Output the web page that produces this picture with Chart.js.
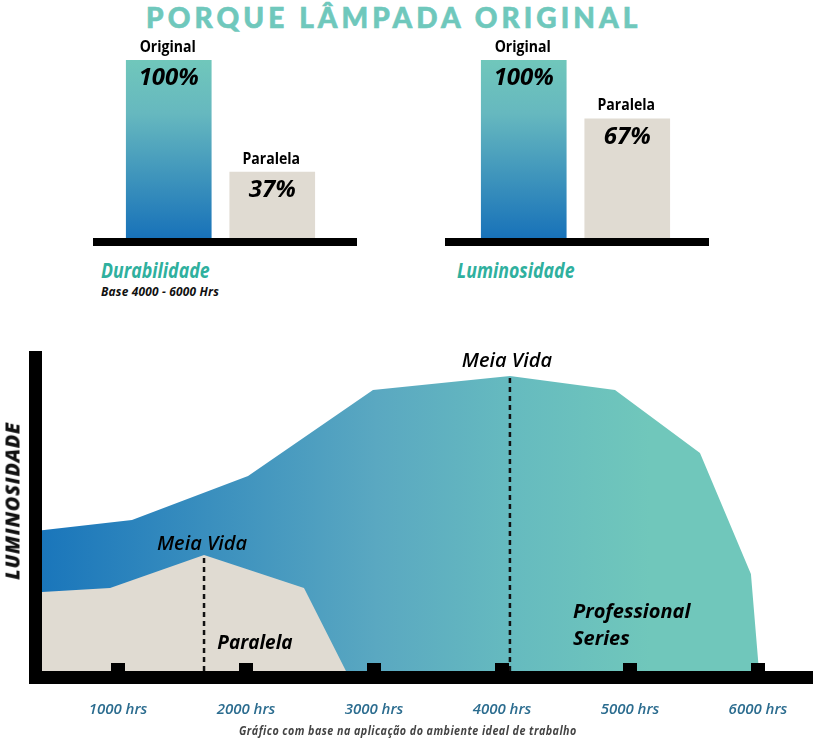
<!DOCTYPE html>
<html lang="pt">
<head>
<meta charset="utf-8">
<title>Porque lâmpada original</title>
<script src="https://cdn.jsdelivr.net/npm/chart.js@4/dist/chart.umd.min.js"></script>
<style>
html,body{margin:0;padding:0;background:#fff;width:815px;height:739px;overflow:hidden}
#wrap{position:relative;width:815px;height:739px}
canvas{position:absolute;display:block}
.t{position:absolute;white-space:nowrap;line-height:1;margin:0;transform-origin:left center}
#title{left:146px;top:0;font:900 28px "Lato";letter-spacing:4.1px;color:#6fc8bc;-webkit-text-stroke:.6px #6fc8bc}
.sub{font:italic bold 21px "Open Sans";color:#2fb09e;transform:scaleX(.845)}
#base{left:101px;top:283px;font:italic bold 12px "Open Sans";letter-spacing:.2px;color:#111;transform:scaleX(.99)}
#note{left:239px;top:722px;font:italic bold 12px "Open Sans";letter-spacing:.5px;color:#444;transform:scaleX(.895)}
#ylab{left:12px;top:501px;font:italic 800 20px "Open Sans";letter-spacing:.6px;color:#111;transform-origin:center;transform:translate(-50%,-50%) rotate(-90deg)}
</style>
</head>
<body>
<div id="wrap">
  <h1 class="t" id="title">PORQUE LÂMPADA ORIGINAL</h1>
  <canvas id="c1" width="264" height="226" style="left:93px;top:30px"></canvas>
  <canvas id="c2" width="264" height="226" style="left:445px;top:30px"></canvas>
  <div class="t sub" style="left:101px;top:256px">Durabilidade</div>
  <div class="t" id="base">Base 4000 - 6000 Hrs</div>
  <div class="t sub" style="left:457px;top:256px">Luminosidade</div>
  <canvas id="c3" width="815" height="399" style="left:0;top:340px"></canvas>
  <div class="t" id="ylab">LUMINOSIDADE</div>
  <div class="t" id="note">Gráfico com base na aplicação do ambiente ideal de trabalho</div>
</div>
<script>
// ---- data ----
const barCategories = ["Original", "Paralela"];
const durabilidade = [100, 37];
const luminosidade = [100, 67];

const hourTicks = [1000, 2000, 3000, 4000, 5000, 6000];
const originalHours = [406, 1109, 2016, 2992, 4062, 4883, 5547, 5945, 6008];
const originalLum   = [44, 47.2, 60.9, 87.8, 92.2, 87.8, 68.1, 30.3, 0];
const paralelaHours = [406, 938, 1672, 2453, 2781];
const paralelaLum   = [24.7, 25.9, 36.25, 25.9, 0];
const meiaVidaHours = [1672, 4062];
const meiaVidaLum   = [36.25, 92.2];

const toPts = (xs, ys) => xs.map((x, i) => ({x, y: ys[i]}));
const BLUE = "#1872b9", TEAL = "#70c7bb", SAND = "#e0dbd2";
const NARROW = 'bold 16px "Open Sans"';
const PCT = 'italic bold 24px "Open Sans"';

Chart.defaults.animation = false;
Chart.defaults.plugins.legend.display = false;
Chart.defaults.plugins.tooltip.enabled = false;

function barChart(id, values, padLeft) {
  const labelsPlugin = {
    id: "barLabels",
    afterDatasetsDraw(chart) {
      const c = chart.ctx, a = chart.chartArea;
      c.save();
      c.fillStyle = "#000";
      c.fillRect(0, a.bottom, chart.width, 8);
      c.textAlign = "center"; c.textBaseline = "middle";
      chart.getDatasetMeta(0).data.forEach((b, i) => {
        c.save();
        c.translate(b.x - 1, b.y - 13);
        c.scale(0.88, 1);
        c.font = NARROW;
        c.fillText(barCategories[i], 0, 0);
        c.restore();
        c.font = PCT;
        c.fillText(values[i] + "%", b.x, b.y + 18);
      });
      c.restore();
    }
  };
  new Chart(document.getElementById(id), {
    type: "bar",
    data: {
      labels: barCategories,
      datasets: [{
        data: values,
        barThickness: 85,
        backgroundColor(ctx) {
          if (ctx.dataIndex === 1) return SAND;
          const a = ctx.chart.chartArea;
          if (!a) return TEAL;
          const g = ctx.chart.ctx.createLinearGradient(0, a.top, 0, a.bottom);
          g.addColorStop(0, TEAL);
          g.addColorStop(0.3, "#66b8bf");
          g.addColorStop(1, BLUE);
          return g;
        }
      }]
    },
    options: {
      responsive: false,
      layout: {padding: {left: padLeft, right: 57 - padLeft, top: 30, bottom: 18}},
      scales: {
        x: {display: false},
        y: {display: false, min: 0, max: 100}
      }
    },
    plugins: [labelsPlugin]
  });
}
barChart("c1", durabilidade, 24);
barChart("c2", luminosidade, 27);

const frame = {
  id: "frame",
  afterDatasetsDraw(chart) {
    const c = chart.ctx, a = chart.chartArea, x = chart.scales.x, y = chart.scales.y;
    c.save();
    c.fillStyle = "#000";
    c.fillRect(a.left - 13, a.top, 13, a.bottom - a.top + 13);
    c.fillRect(a.left - 13, a.bottom, a.right - a.left + 13, 13);
    hourTicks.forEach(t => c.fillRect(Math.round(x.getPixelForValue(t)) - 7, a.bottom - 8, 14, 8));
    c.textBaseline = "middle";
    const mv = meiaVidaHours.map((h, i) => [x.getPixelForValue(h), y.getPixelForValue(meiaVidaLum[i])]);
    c.textAlign = "center";
    c.font = '600 italic 20px "Open Sans"';
    c.fillText("Meia Vida", mv[0][0] - 2, mv[0][1] - 11);
    c.fillText("Meia Vida", mv[1][0] - 3, mv[1][1] - 15);
    c.font = '700 italic 19px "Open Sans"';
    c.fillText("Paralela", x.getPixelForValue(2070), y.getPixelForValue(8.7));
    c.textAlign = "left";
    c.font = '700 italic 20px "Open Sans"';
    c.fillText("Professional", x.getPixelForValue(4555), y.getPixelForValue(18.4));
    c.fillText("Series", x.getPixelForValue(4555), y.getPixelForValue(10));
    c.restore();
  }
};

new Chart(document.getElementById("c3"), {
  type: "scatter",
  data: {
    datasets: [
      {
        data: toPts([meiaVidaHours[0], meiaVidaHours[0]], [0, meiaVidaLum[0]]),
        showLine: true, pointRadius: 0, borderColor: "#111", borderWidth: 2.5,
        borderDash: [5, 4], order: 1
      },
      {
        data: toPts([meiaVidaHours[1], meiaVidaHours[1]], [0, meiaVidaLum[1]]),
        showLine: true, pointRadius: 0, borderColor: "#111", borderWidth: 2.5,
        borderDash: [5, 4], order: 1
      },
      {
        label: "Paralela",
        data: toPts(paralelaHours, paralelaLum),
        showLine: true, pointRadius: 0, borderWidth: 0, fill: "origin",
        backgroundColor: SAND, order: 2
      },
      {
        label: "Professional Series",
        data: toPts(originalHours, originalLum),
        showLine: true, pointRadius: 0, borderWidth: 0, fill: "origin", order: 3,
        backgroundColor(ctx) {
          const a = ctx.chart.chartArea;
          if (!a) return TEAL;
          const g = ctx.chart.ctx.createLinearGradient(a.left, 0, 650, 0);
          g.addColorStop(0, "#1a76bb");
          g.addColorStop(0.55, "#5aa8c1");
          g.addColorStop(0.78, "#66bbbf");
          g.addColorStop(1, TEAL);
          return g;
        }
      }
    ]
  },
  options: {
    responsive: false,
    layout: {padding: {top: 11, right: 2, left: 0, bottom: 0}},
    scales: {
      x: {
        type: "linear", min: 406, max: 6430,
        afterBuildTicks(s) { s.ticks = hourTicks.map(value => ({value})); },
        afterFit(s) { s.height = 68; s.paddingLeft = 0; s.paddingRight = 0; },
        grid: {display: false, drawTicks: false},
        border: {display: false},
        ticks: {
          autoSkip: false, maxRotation: 0, padding: 30, color: "#2b6c8f",
          font: {family: "Open Sans", size: 15, style: "italic", weight: "600"},
          callback: v => v + " hrs"
        }
      },
      y: {
        min: 0, max: 100,
        afterFit(s) { s.width = 42; s.paddingTop = 0; s.paddingBottom = 0; },
        grid: {display: false, drawTicks: false},
        border: {display: false},
        ticks: {display: false}
      }
    }
  },
  plugins: [frame]
});
</script>
</body>
</html>
